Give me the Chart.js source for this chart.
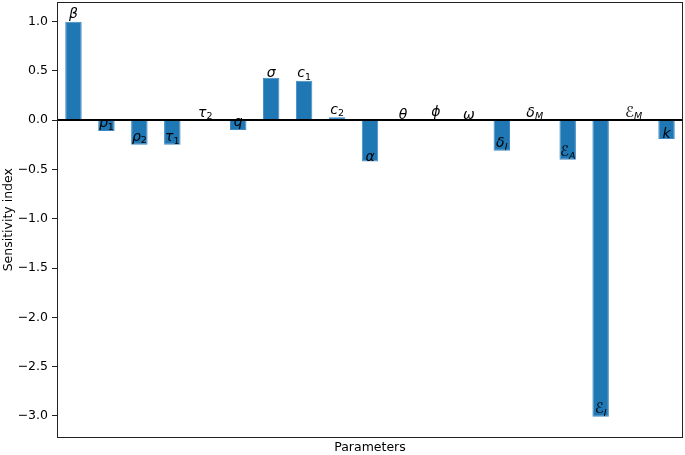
<!DOCTYPE html>
<html>
<head>
<meta charset="utf-8">
<script src="https://cdn.jsdelivr.net/npm/chart.js@4/dist/chart.umd.min.js"></script>
<style>
  body { margin: 0; background: #fff; }
</style>
</head>
<body>
<canvas id="chart" width="685" height="455"></canvas>
<script>
// parameter symbols: main letter and subscript
const paramNames = ["β", "ρ", "ρ", "τ", "τ", "q", "σ", "c", "c", "α", "θ", "ϕ", "ω", "δ", "δ", "ℰ", "ℰ", "ℰ", "k"];
const paramSubs  = ["", "1", "2", "1", "2", "", "", "1", "2", "", "", "", "", "I", "M", "A", "I", "M", ""];
const sensitivity = [1.0, -0.11, -0.25, -0.25, 0.0, -0.10, 0.43, 0.40, 0.03, -0.42, 0.0, 0.0, 0.0, -0.31, 0.0, -0.40, -3.01, 0.0, -0.19];
const yTicks = [-3.0, -2.5, -2.0, -1.5, -1.0, -0.5, 0.0, 0.5, 1.0];

const labels = paramNames.map((n, i) => n + paramSubs[i]);

// frame, zero line and bar annotations
const decorPlugin = {
	id: 'decor',
	afterDatasetsDraw(chart) {
		const ctx = chart.ctx;
		const area = chart.chartArea;
		const xs = chart.scales.x;
		const ys = chart.scales.y;

		ctx.save();
		// zero line
		const y0 = Math.round(ys.getPixelForValue(0));
		ctx.strokeStyle = '#000';
		ctx.lineWidth = 2;
		ctx.beginPath();
		ctx.moveTo(area.left, y0);
		ctx.lineTo(area.right, y0);
		ctx.stroke();

		// labels sit with their bottom on the bar end
		ctx.fillStyle = '#000';
		ctx.textBaseline = 'alphabetic';
		ctx.textAlign = 'left';
		const subDrop = 2.5;
		sensitivity.forEach((v, i) => {
			const x = xs.getPixelForValue(i);
			const y = ys.getPixelForValue(v);
			const main = paramNames[i];
			const sub = paramSubs[i];
			const mainFont = main === 'ℰ' ? 'italic 15px "DejaVu Sans"' : 'italic 14px "DejaVu Sans"';
			const subFont = /[0-9]/.test(sub) ? '9.5px "DejaVu Sans"' : 'italic 9.5px "DejaVu Sans"';
			ctx.font = mainFont;
			const mm = ctx.measureText(main);
			let wSub = 0, subDesc = -99;
			if (sub) {
				ctx.font = subFont;
				const ms = ctx.measureText(sub);
				wSub = ms.width;
				subDesc = ms.actualBoundingBoxDescent + subDrop;
			}
			const bottom = Math.max(mm.actualBoundingBoxDescent, subDesc, 0) + 1;
			const start = x - (mm.width + wSub) / 2;
			const base = y - bottom;
			ctx.font = mainFont;
			ctx.fillText(main, start, base);
			if (sub) {
				ctx.font = subFont;
				ctx.fillText(sub, start + mm.width, base + subDrop);
			}
		});

		// axes frame
		ctx.strokeStyle = '#222';
		ctx.lineWidth = 1;
		ctx.strokeRect(Math.round(area.left) + 0.5, Math.round(area.top) + 0.5,
			Math.round(area.right - area.left) - 1, Math.round(area.bottom - area.top) - 1);
		ctx.restore();
	}
};

const ctx = document.getElementById('chart').getContext('2d');
new Chart(ctx, {
	type: 'bar',
	data: {
		labels: labels,
		datasets: [{
			data: sensitivity,
			backgroundColor: '#1f77b4',
			borderColor: '#4189c2',
			borderWidth: 1,
			categoryPercentage: 1.0,
			barPercentage: 0.5
		}]
	},
	options: {
		responsive: false,
		animation: false,
		devicePixelRatio: 1,
		layout: {
			padding: { top: 2, right: 2, left: 0, bottom: 0 }
		},
		plugins: {
			legend: { display: false },
			tooltip: { enabled: false }
		},
		scales: {
			x: {
				offset: true,
				grid: { display: false },
				border: { display: false },
				ticks: { display: false },
				title: {
					display: true,
					text: 'Parameters',
					color: '#000',
					font: { family: 'DejaVu Sans', size: 12.5 },
					padding: { top: 0, bottom: 0 }
				},
				afterFit(scale) { scale.height = 17.5; }
			},
			y: {
				min: -3.22,
				max: 1.2,
				grid: { drawOnChartArea: false, drawTicks: true, tickLength: 5, color: '#222' },
				border: { display: false },
				afterBuildTicks(scale) {
					scale.ticks = yTicks.map(v => ({ value: v }));
				},
				ticks: {
					color: '#000',
					padding: 4,
					font: { family: 'DejaVu Sans', size: 12.5 },
					callback: v => v.toFixed(1).replace('-', '\u2212')
				},
				title: {
					display: true,
					text: 'Sensitivity index',
					color: '#000',
					font: { family: 'DejaVu Sans', size: 12.5 },
					padding: { top: 1, bottom: 0 }
				},
				afterFit(scale) {
					scale.width = 57;
					scale.paddingTop = 0;
					scale.paddingBottom = 0;
				}
			}
		}
	},
	plugins: [decorPlugin]
});
</script>
</body>
</html>
